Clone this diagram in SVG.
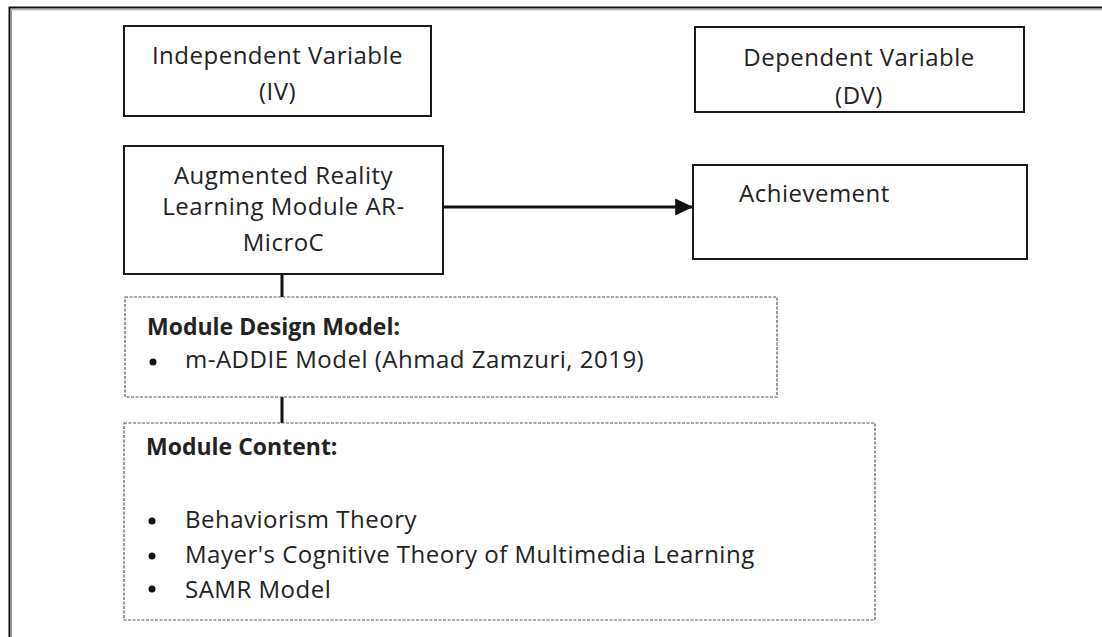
<svg xmlns="http://www.w3.org/2000/svg" width="1102" height="637" viewBox="0 0 1102 637">
  <defs>
    <style>
      .box { fill: #ffffff; stroke: #1a1a1a; stroke-width: 2; }
      .dash { fill: #ffffff; stroke: #555555; stroke-width: 1.2; stroke-dasharray: 3 1.5; }
      .t { font-family: "Open Sans", "Liberation Sans", sans-serif; font-size: 24px; letter-spacing: 0.5px; fill: #222222; }
      .c { text-anchor: middle; }
      .b { font-weight: bold; font-size: 23px; letter-spacing: 0; }
      .link { stroke: #111111; stroke-width: 3; fill: none; }
    </style>
    <marker id="arrow" markerWidth="6" markerHeight="6" refX="5.6" refY="3" orient="auto" markerUnits="strokeWidth">
      <path d="M0,0.2 L6,3 L0,5.8 Z" fill="#111111"/>
    </marker>
  </defs>

  <rect width="1102" height="637" fill="#ffffff"/>

  <!-- outer frame (open on the right and bottom) -->
  <g id="frame">
    <path d="M9.5,640 V7.5 H1104" fill="none" stroke="#111111" stroke-width="2"/>
    <path d="M11.5,640 V9.8 H1104" fill="none" stroke="#9a9a9a" stroke-width="1"/>
  </g>

  <!-- connectors -->
  <g id="connectors">
    <line class="link" x1="443" y1="207" x2="692" y2="207" marker-end="url(#arrow)"/>
    <line class="link" x1="282" y1="274" x2="282" y2="297"/>
    <line class="link" x1="282" y1="397" x2="282" y2="423"/>
  </g>

  <g id="iv-header">
    <rect class="box" x="124" y="26" width="307" height="90"/>
    <text class="t c" x="277.5" y="64">Independent Variable</text>
    <text class="t c" x="277.5" y="100">(IV)</text>
  </g>

  <g id="dv-header">
    <rect class="box" x="695" y="27" width="329" height="85"/>
    <text class="t c" x="859" y="66">Dependent Variable</text>
    <text class="t c" x="859" y="104">(DV)</text>
  </g>

  <g id="ar-module">
    <rect class="box" x="124" y="146" width="319" height="128"/>
    <text class="t c" x="283.5" y="184">Augmented Reality</text>
    <text class="t c" x="283.5" y="215">Learning Module AR-</text>
    <text class="t c" x="283.5" y="251">MicroC</text>
  </g>

  <g id="achievement">
    <rect class="box" x="693" y="165" width="334" height="94"/>
    <text class="t" x="739" y="202">Achievement</text>
  </g>

  <g id="design-model">
    <rect class="dash" x="125" y="297" width="652" height="100"/>
    <text class="t b" x="147" y="335">Module Design Model:</text>
    <circle cx="153" cy="362" r="3.5" fill="#111111"/>
    <text class="t" x="185" y="368">m-ADDIE Model (Ahmad Zamzuri, 2019)</text>
  </g>

  <g id="module-content">
    <rect class="dash" x="124" y="423" width="751" height="197"/>
    <text class="t b" x="146" y="455">Module Content:</text>
    <circle cx="152" cy="521" r="3.5" fill="#111111"/>
    <text class="t" x="185" y="528">Behaviorism Theory</text>
    <circle cx="152" cy="556" r="3.5" fill="#111111"/>
    <text class="t" x="185" y="563">Mayer's Cognitive Theory of Multimedia Learning</text>
    <circle cx="152" cy="589" r="3.5" fill="#111111"/>
    <text class="t" x="185" y="598">SAMR Model</text>
  </g>
</svg>
